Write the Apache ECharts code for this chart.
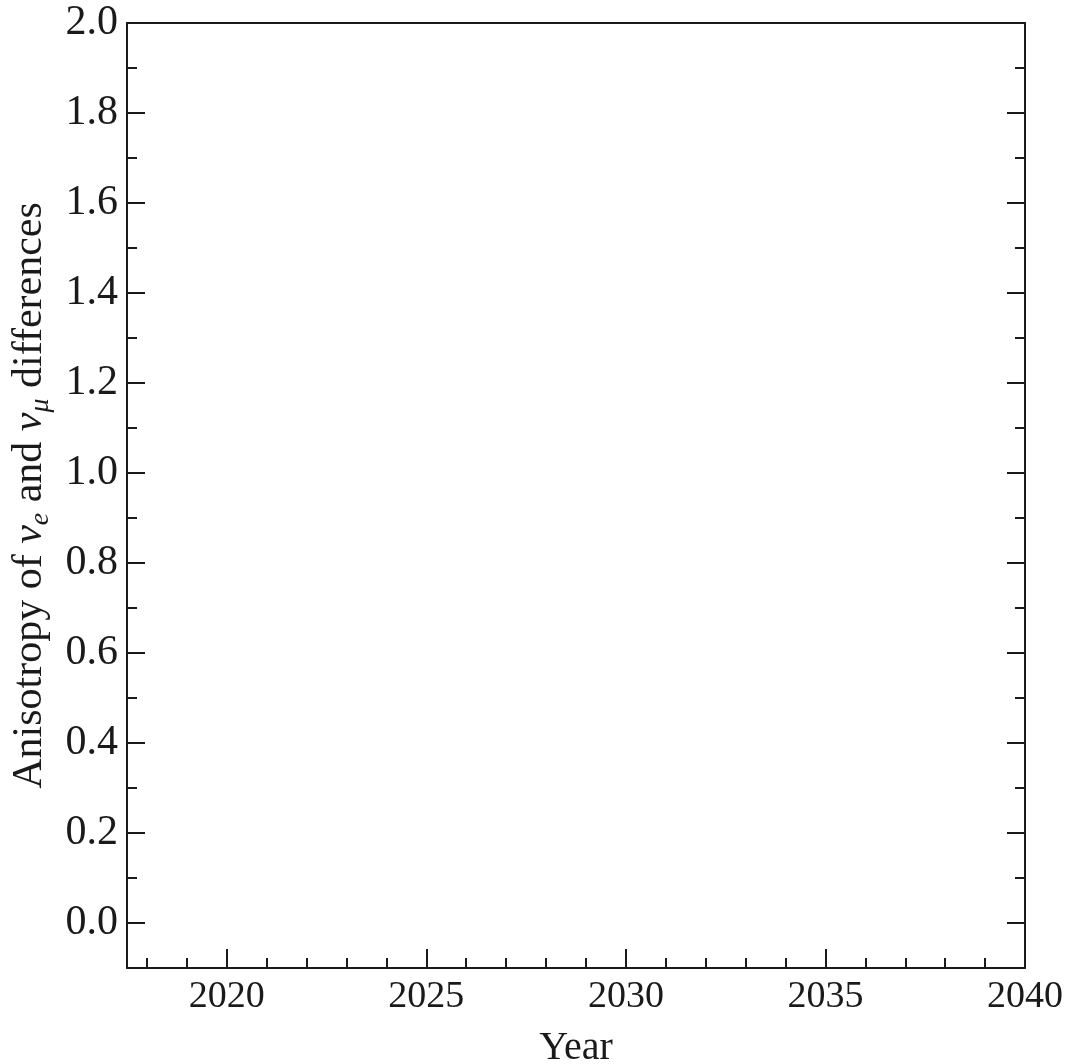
<!DOCTYPE html>
<html>
<head>
<meta charset="utf-8">
<script src="https://cdn.jsdelivr.net/npm/echarts@6/dist/echarts.min.js"></script>
<style>html,body{margin:0;padding:0;background:#fff}#c{width:1068px;height:1064px}</style>
</head>
<body>
<div id="c"></div>
<script>
// Axis ranges and ticks (chart contains no data series)
const xRange = [2017.5, 2040];
const yRange = [-0.1, 2.0];
const xMajorTicks = [2020, 2025, 2030, 2035, 2040];
const xMinorTicks = [2018, 2019, 2021, 2022, 2023, 2024, 2026, 2027, 2028, 2029, 2031, 2032, 2033, 2034, 2036, 2037, 2038, 2039];
const yMajorTicks = [0.0, 0.2, 0.4, 0.6, 0.8, 1.0, 1.2, 1.4, 1.6, 1.8, 2.0];
const yMinorTicks = [0.1, 0.3, 0.5, 0.7, 0.9, 1.1, 1.3, 1.5, 1.7, 1.9];
const xTitle = 'Year';

const serif = '"Liberation Serif", "DejaVu Serif", serif';
const ink = '#1a1a1a';
const chart = echarts.init(document.getElementById('c'));

const lineStyle = { color: ink, width: 2 };
function yAxisDef(pos, isMajor, withName) {
  return {
    type: 'value', position: pos, min: yRange[0], max: yRange[1],
    gridIndex: 0,
    axisLine: { show: isMajor, onZero: false, lineStyle },
    splitLine: { show: false },
    axisTick: { show: true, inside: true, length: isMajor ? 18 : 10, lineStyle,
      customValues: isMajor ? yMajorTicks : yMinorTicks },
    axisLabel: { show: isMajor && pos === 'left', customValues: yMajorTicks,
      formatter: v => Number(v).toFixed(1), fontFamily: serif, fontSize: 42, color: ink, margin: 9 },
    name: withName ? '{t|Anisotropy of }{g|ν}{s|e}{t| and }{g|ν}{s|μ}{t| differences}' : '',
    nameLocation: 'middle', nameRotate: 90, nameGap: 70,
    nameTextStyle: {
      rich: {
        t: { fontFamily: serif, fontSize: 42, color: ink, lineHeight: 50 },
        g: { fontFamily: serif, fontSize: 42, fontStyle: 'italic', color: ink, lineHeight: 50 },
        s: { fontFamily: serif, fontSize: 28, fontStyle: 'italic', color: ink, lineHeight: 50, verticalAlign: 'bottom', padding: [18, 0, 0, 0] }
      }
    }
  };
}
function xAxisDef(pos, isMajor) {
  return {
    type: 'value', position: pos, min: xRange[0], max: xRange[1],
    gridIndex: 0,
    axisLine: { show: isMajor, onZero: false, lineStyle },
    splitLine: { show: false },
    axisTick: { show: pos === 'bottom', inside: true, length: isMajor ? 19 : 10, lineStyle,
      customValues: isMajor ? xMajorTicks : xMinorTicks },
    axisLabel: { show: isMajor && pos === 'bottom', customValues: xMajorTicks,
      formatter: v => String(v), fontFamily: serif, fontSize: 38, color: ink, margin: 10 },
    name: (isMajor && pos === 'bottom') ? xTitle : '',
    nameLocation: 'middle', nameGap: 60,
    nameTextStyle: { fontFamily: serif, fontSize: 40, color: ink }
  };
}

chart.setOption({
  backgroundColor: '#fff',
  animation: false,
  grid: { left: 127, right: 43, top: 23, bottom: 96, containLabel: false, outerBoundsMode: 'none' },
  xAxis: [xAxisDef('bottom', true), xAxisDef('bottom', false), xAxisDef('top', true)],
  yAxis: [yAxisDef('left', true, true), yAxisDef('left', false, false), yAxisDef('right', true, false), yAxisDef('right', false, false)],
  series: [{ type: 'line', data: [], xAxisIndex: 0, yAxisIndex: 0 }]
});
</script>
</body>
</html>
